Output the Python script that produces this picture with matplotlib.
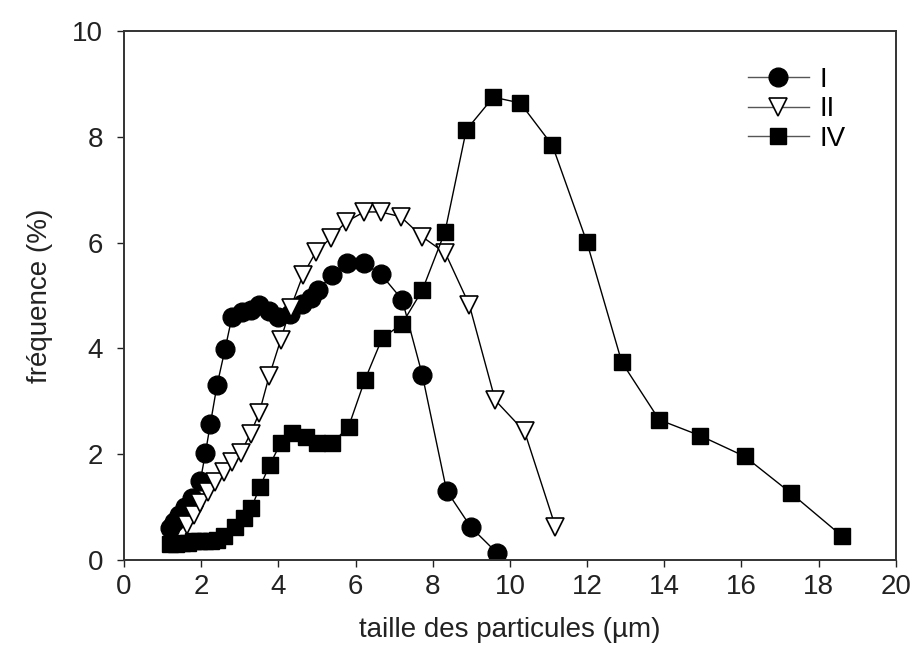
import matplotlib
matplotlib.use("Agg")
import matplotlib.pyplot as plt

plt.rcParams['font.family'] = ['Liberation Sans', 'DejaVu Sans']

# Sample I (filled circles)
size_I = [1.20, 1.29, 1.42, 1.59, 1.77, 1.98, 2.11, 2.24, 2.41, 2.62, 2.80,
          3.05, 3.30, 3.50, 3.75, 4.00, 4.30, 4.62, 4.85, 5.02, 5.40, 5.79,
          6.22, 6.66, 7.21, 7.73, 8.36, 8.99, 9.67]
freq_I = [0.60, 0.72, 0.85, 1.01, 1.17, 1.50, 2.02, 2.58, 3.30, 3.99, 4.60,
          4.69, 4.73, 4.82, 4.70, 4.60, 4.66, 4.84, 4.95, 5.10, 5.39, 5.61,
          5.61, 5.40, 4.92, 3.50, 1.31, 0.62, 0.13]

# Sample II (open triangles)
size_II = [1.64, 1.81, 1.98, 2.19, 2.37, 2.58, 2.80, 3.02, 3.28, 3.50, 3.76,
           4.06, 4.32, 4.64, 4.97, 5.36, 5.75, 6.22, 6.65, 7.17, 7.73, 8.33,
           8.95, 9.62, 10.38, 11.18]
freq_II = [0.66, 0.85, 1.07, 1.29, 1.48, 1.67, 1.86, 2.02, 2.39, 2.77, 3.47,
           4.16, 4.77, 5.39, 5.82, 6.09, 6.39, 6.58, 6.58, 6.49, 6.11, 5.80,
           4.82, 3.02, 2.43, 0.63]

# Sample IV (filled squares)
size_IV = [1.20, 1.35, 1.50, 1.65, 1.80, 1.95, 2.10, 2.25, 2.40, 2.60, 2.87,
           3.10, 3.30, 3.52, 3.78, 4.06, 4.36, 4.71, 5.01, 5.40, 5.82, 6.24,
           6.69, 7.21, 7.73, 8.32, 8.87, 9.57, 10.27, 11.10, 11.99, 12.90,
           13.87, 14.93, 16.08, 17.29, 18.61]
freq_IV = [0.30, 0.30, 0.33, 0.33, 0.35, 0.35, 0.35, 0.35, 0.38, 0.45, 0.63,
           0.80, 0.98, 1.38, 1.80, 2.21, 2.40, 2.33, 2.21, 2.21, 2.52, 3.40,
           4.19, 4.47, 5.10, 6.21, 8.13, 8.75, 8.64, 7.84, 6.02, 3.74,
           2.65, 2.35, 1.96, 1.26, 0.45]

x_ticks = [0, 2, 4, 6, 8, 10, 12, 14, 16, 18, 20]
y_ticks = [0, 2, 4, 6, 8, 10]

fig = plt.figure(figsize=(9.15, 6.47), dpi=100)
ax = fig.add_axes([0.1355, 0.1345, 0.8435, 0.8175])

line_kw = dict(color='black', linewidth=1.0)
ax.plot(size_I, freq_I, marker='o', markersize=13.5, markerfacecolor='black',
        markeredgecolor='black', label='I', **line_kw)
ax.plot(size_II, freq_II, marker='v', markersize=13, markerfacecolor='white',
        markeredgecolor='black', markeredgewidth=1.2, label='II', **line_kw)
ax.plot(size_IV, freq_IV, marker='s', markersize=11.5, markerfacecolor='black',
        markeredgecolor='black', label='IV', **line_kw)

ax.set_xlim(0, 20)
ax.set_ylim(0, 10)
ax.set_xticks(x_ticks)
ax.set_yticks(y_ticks)
ax.tick_params(axis='both', direction='out', length=5, width=1.0,
               labelsize=20, colors='#222222')
ax.tick_params(axis='y', pad=10)
ax.tick_params(axis='x', pad=5)
for sp in ax.spines.values():
    sp.set_linewidth(1.4)
    sp.set_color('#333333')

ax.set_xlabel('taille des particules (µm)', fontsize=20, color='#222222', labelpad=12)
ax.set_ylabel('fréquence (%)', fontsize=20, color='#222222', labelpad=14)

leg = ax.legend(loc='upper left', bbox_to_anchor=(0.808, 0.932), frameon=False,
                fontsize=20, handlelength=2.2, handletextpad=0.4,
                labelspacing=0.12, borderpad=0, borderaxespad=0)
for h in leg.get_lines():
    h.set_color('#555555')
    h.set_markeredgecolor('black')

fig.savefig('out.png', dpi=100)
